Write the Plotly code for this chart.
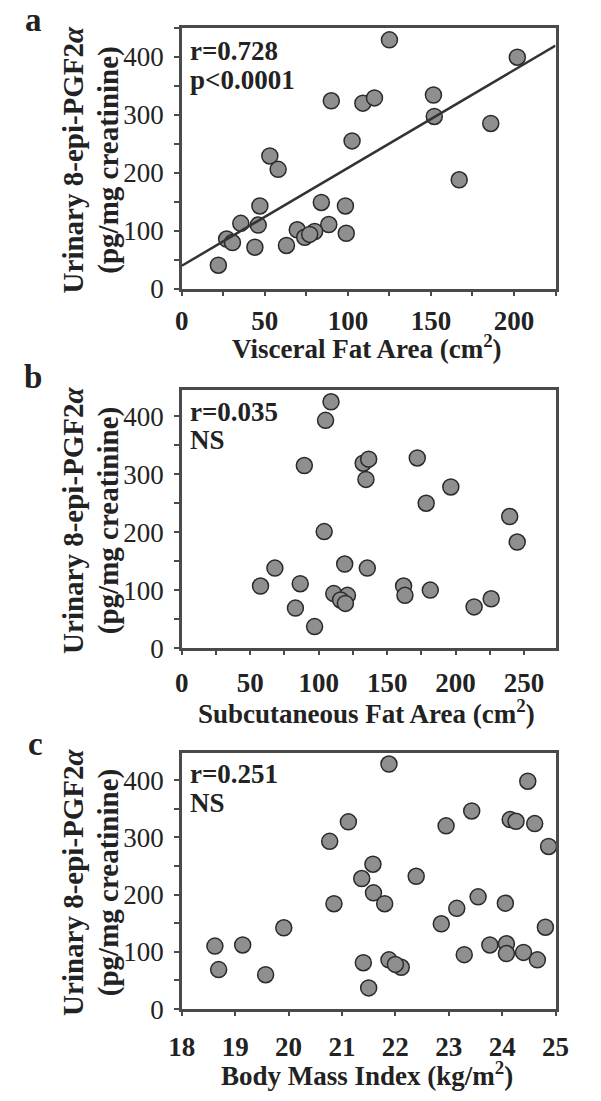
import plotly.graph_objects as go

# ---------------- data ----------------
vfa_x = [125, 202, 90, 109, 116, 151.5, 152, 186, 102.5, 53, 58, 167, 47, 84, 98.5,
         35.5, 46, 88.5, 27, 30.5, 69.5, 74, 80, 77, 99, 44, 63, 22]
vfa_y = [429, 399, 324, 320, 329, 334, 297, 285, 255, 229, 206, 188, 143, 149, 143,
         113, 110, 111, 86, 80, 102, 89, 99, 94, 96, 72, 75, 41]
fit_x = [0, 225]
fit_y = [40, 419]

sfa_x = [109, 105, 89.5, 132.5, 136.5, 134.5, 172, 196.5, 178.5, 239.5, 245, 104, 68,
         119, 135.5, 57.5, 86.5, 111, 121, 116, 119.5, 162, 163, 181.5, 83, 213.5, 226, 97]
sfa_y = [425, 393, 315, 319, 326, 291, 328, 278, 250, 227, 183, 201, 138,
         145, 138, 107, 111, 94, 91, 83, 77, 107, 91, 100, 69, 71, 85, 37]

bmi_x = [21.88, 24.48, 23.43, 24.15, 24.26, 24.61, 21.12, 22.95, 20.77, 24.87, 21.58,
         21.37, 22.39, 21.59, 21.80, 20.85, 23.55, 23.15, 24.06, 19.91, 22.86, 24.81,
         18.62, 19.14, 18.69, 19.57, 21.40, 21.88, 22.11, 22.0, 23.29, 23.77, 24.08,
         24.08, 24.40, 24.66, 21.5]
bmi_y = [428, 398, 346, 331, 328, 324, 327, 320, 293, 284, 253,
         228, 232, 203, 184, 184, 196, 176, 185, 142, 149, 143,
         110, 112, 69, 60, 81, 86, 73, 78, 95, 112, 114,
         97, 99, 86, 37]

y_ticks = [0, 100, 200, 300, 400]
panel_labels = ["a", "b", "c"]
stat_lines = [["r=0.728", "p<0.0001"], ["r=0.035", "NS"], ["r=0.251", "NS"]]
x_titles = ["Visceral Fat Area (cm<sup>2</sup>)",
            "Subcutaneous Fat Area (cm<sup>2</sup>)",
            "Body Mass Index (kg/m<sup>2</sup>)"]
y_title_lines = ["Urinary 8-epi-PGF2<i>α</i>", "(pg/mg creatinine)"]

# ---------------- layout geometry ----------------
W, H = 601, 1101
FONT = "Liberation Serif"
INK = "#222222"
FRAME = "#4a4a4a"


def px(x):
    return x / W


def py(y):
    return 1 - y / H


x_dom = [px(176), px(568)]
panels = [  # (top px, bottom px)
    (28, 293),
    (395, 657),
    (763, 1023),
]

fig = go.Figure()

marker = dict(size=16, color="#8f8f8f", line=dict(color="#2a2a2a", width=1.5))

fig.add_trace(go.Scatter(x=vfa_x, y=vfa_y, mode="markers", marker=marker,
                         xaxis="x", yaxis="y", cliponaxis=False, showlegend=False))
fig.add_trace(go.Scatter(x=fit_x, y=fit_y, mode="lines",
                         line=dict(color="#333333", width=2.5),
                         xaxis="x", yaxis="y", showlegend=False))
fig.add_trace(go.Scatter(x=sfa_x, y=sfa_y, mode="markers", marker=marker,
                         xaxis="x2", yaxis="y2", cliponaxis=False, showlegend=False))
fig.add_trace(go.Scatter(x=bmi_x, y=bmi_y, mode="markers", marker=marker,
                         xaxis="x3", yaxis="y3", cliponaxis=False, showlegend=False))

tickfont = dict(family=FONT, size=27, color=INK)


def xaxis(rng, dtick, minor_dtick, anchor, standoff):
    d = dict(domain=x_dom, range=rng, dtick=dtick, tick0=rng[0] if dtick == 1 else 0,
             showline=True, linecolor=FRAME, linewidth=2.5, mirror=True,
             ticks="outside", ticklen=4, tickwidth=2, tickcolor=FRAME,
             showgrid=False, zeroline=False, tickfont=tickfont, anchor=anchor,
             ticklabelstandoff=standoff, fixedrange=True,
             tickprefix="<b>", ticksuffix="</b>")
    if minor_dtick:
        d["minor"] = dict(dtick=minor_dtick, ticks="outside", ticklen=4,
                          tickwidth=2, tickcolor=FRAME, showgrid=False)
    return d


def yaxis(top, bottom, ymax, anchor):
    return dict(domain=[py(bottom), py(top)], range=[0, ymax],
                tickvals=y_ticks, showline=True, linecolor=FRAME, linewidth=2.5,
                mirror=True, ticks="outside", ticklen=5, tickwidth=2, tickcolor=FRAME,
                minor=dict(dtick=50, ticks="outside", ticklen=5, tickwidth=2,
                           tickcolor=FRAME, showgrid=False),
                showgrid=False, zeroline=False, tickfont=tickfont, anchor=anchor,
                ticklabelstandoff=5, fixedrange=True,
                tickprefix="<b>", ticksuffix="</b>")


fig.update_layout(
    width=W, height=H, margin=dict(l=0, r=0, t=0, b=0),
    paper_bgcolor="white", plot_bgcolor="white",
    xaxis=xaxis([0, 225], 50, 25, "y", 2),
    yaxis=yaxis(*panels[0], 450, "x"),
    xaxis2=xaxis([0, 273], 50, 25, "y2", 5),
    yaxis2=yaxis(*panels[1], 446, "x2"),
    xaxis3=xaxis([18, 25], 1, None, "y3", 8),
    yaxis3=yaxis(*panels[2], 448, "x3"),
)

ann = []
x_title_y = [352, 722, 1089]
label_pos = [(20, 20), (20, 382), (23, 754)]
stat_y = [(52, 81), (418, 446), (785, 814)]
for i, (top, bottom) in enumerate(panels):
    mid = (top + bottom) / 2 + 2
    ann.append(dict(text="<b>" + x_titles[i] + "</b>", x=px(370), y=py(x_title_y[i]),
                    xref="paper", yref="paper", showarrow=False, xanchor="center",
                    yanchor="middle", font=dict(family=FONT, size=27, color=INK)))
    ann.append(dict(text="<b>" + y_title_lines[0] + "</b>", x=px(62), y=py(mid),
                    xref="paper", yref="paper", showarrow=False, textangle=-90,
                    xanchor="center", yanchor="middle",
                    font=dict(family=FONT, size=29, color=INK)))
    ann.append(dict(text="<b>" + y_title_lines[1] + "</b>", x=px(99), y=py(mid),
                    xref="paper", yref="paper", showarrow=False, textangle=-90,
                    xanchor="center", yanchor="middle",
                    font=dict(family=FONT, size=29, color=INK)))
    lx, ly = label_pos[i]
    ann.append(dict(text="<b>" + panel_labels[i] + "</b>", x=px(lx), y=py(ly),
                    xref="paper", yref="paper", showarrow=False,
                    xanchor="center", yanchor="middle",
                    font=dict(family=FONT, size=33, color=INK)))
    for j, line in enumerate(stat_lines[i]):
        ann.append(dict(text="<b>" + line + "</b>", x=px(183), y=py(stat_y[i][j]),
                        xref="paper", yref="paper", showarrow=False,
                        xanchor="left", yanchor="middle",
                        font=dict(family=FONT, size=27, color=INK)))

fig.update_layout(annotations=ann)

fig.write_html("out.html")
